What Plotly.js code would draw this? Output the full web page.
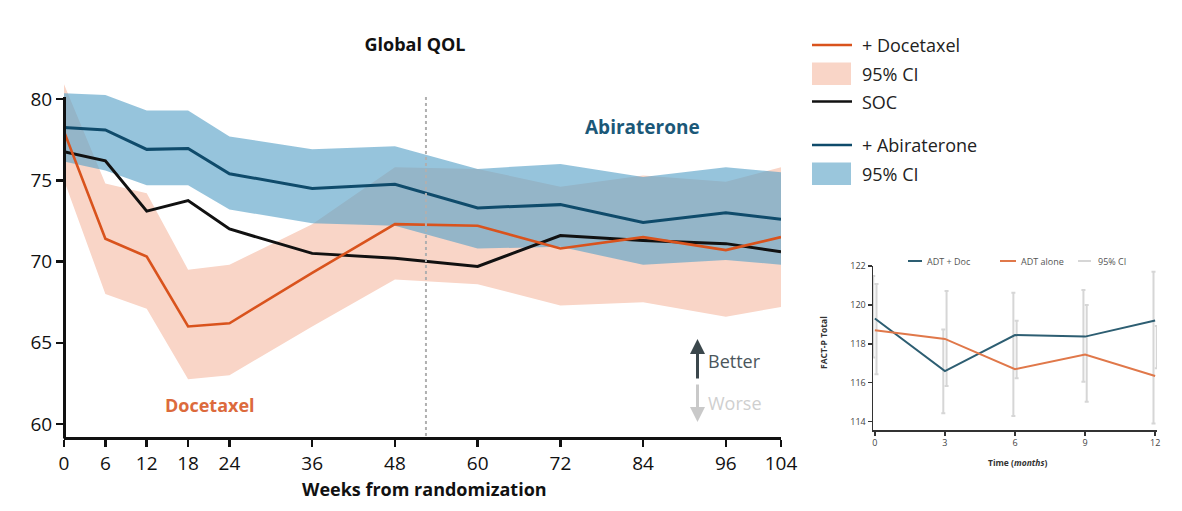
<!DOCTYPE html>
<html>
<head>
<meta charset="utf-8">
<script src="https://cdn.plot.ly/plotly-3.0.1.min.js"></script>
<style>html,body{margin:0;padding:0;background:#fff;}#chart{width:1182px;height:511px;}</style>
</head>
<body>
<div id="chart"></div>
<script>
// ---------- Main chart data (Global QOL) ----------
const weeks = [0, 6, 12, 18, 24, 36, 48, 60, 72, 84, 96, 104];
const weekTickLabels = ['0', '6', '12', '18', '24', '36', '48', '60', '72', '84', '96', '104'];
const docetaxel   = [78.0, 71.4, 70.3, 66.0, 66.2, 69.3, 72.3, 72.2, 70.8, 71.5, 70.7, 71.5];
const doceCiLow   = [75.0, 68.0, 67.1, 62.75, 63.0, 66.0, 68.9, 68.6, 67.3, 67.5, 66.6, 67.2];
const doceCiHigh  = [80.9, 74.8, 74.2, 69.5, 69.8, 72.3, 75.8, 75.7, 74.6, 75.3, 74.9, 75.8];
const soc         = [76.75, 76.2, 73.1, 73.75, 72.0, 70.5, 70.2, 69.7, 71.6, 71.3, 71.1, 70.6];
const abiraterone = [78.25, 78.1, 76.9, 76.95, 75.4, 74.5, 74.75, 73.3, 73.5, 72.4, 73.0, 72.6];
const abiCiLow    = [76.15, 75.6, 74.7, 74.7, 73.2, 72.35, 72.2, 70.8, 70.9, 69.8, 70.1, 69.8];
const abiCiHigh   = [80.35, 80.25, 79.3, 79.3, 77.7, 76.9, 77.1, 75.7, 76.0, 75.2, 75.8, 75.5];
const qolTicks    = [60, 65, 70, 75, 80];
const markerWeek  = 52.5;

// ---------- Inset chart data (FACT-P Total) ----------
const months      = [0, 3, 6, 9, 12];
const adtDoc      = [119.3, 116.6, 118.45, 118.37, 119.2];
const adtAlone    = [118.7, 118.25, 116.7, 117.45, 116.35];
const docCiLow    = [117.3, 114.43, 114.29, 116.05, 113.91];
const docCiHigh   = [121.49, 118.74, 120.63, 120.77, 121.71];
const aloneCiLow  = [116.43, 115.83, 116.23, 115.02, 116.74];
const aloneCiHigh = [121.07, 120.71, 119.19, 120.0, 118.92];
const factTicks   = [114, 116, 118, 120, 122];

// ---------- helpers ----------
const W = 1182, H = 511;
const px = x => x / W;
const py = y => 1 - y / H;
const FONT = 'Open Sans, sans-serif';

const C = {
  orange: '#d9531d', pink: '#f9d5c7', black: '#111111',
  blueLine: '#0f4b6b', blueBand: 'rgba(90,163,200,0.64)', blueLegend: '#9ac6dc',
  insetTeal: '#2d5e72', insetOrange: '#e0784a', ci: '#d6d6d6'
};

const traces = [
  {x: weeks, y: doceCiLow, mode: 'lines', line: {width: 0}, hoverinfo: 'skip', showlegend: false},
  {x: weeks, y: doceCiHigh, mode: 'lines', line: {width: 0}, fill: 'tonexty', fillcolor: C.pink, hoverinfo: 'skip', showlegend: false},
  {x: weeks, y: abiCiLow, mode: 'lines', line: {width: 0}, hoverinfo: 'skip', showlegend: false},
  {x: weeks, y: abiCiHigh, mode: 'lines', line: {width: 0}, fill: 'tonexty', fillcolor: C.blueBand, hoverinfo: 'skip', showlegend: false},
  {x: weeks, y: soc, mode: 'lines', name: 'SOC', line: {color: C.black, width: 3}, showlegend: false},
  {x: weeks, y: docetaxel, mode: 'lines', name: '+ Docetaxel', line: {color: C.orange, width: 2.6}, showlegend: false},
  {x: weeks, y: abiraterone, mode: 'lines', name: '+ Abiraterone', line: {color: C.blueLine, width: 3}, showlegend: false},
  // inset error bars
  {x: months.map(m => m - 0.07), y: docCiLow, xaxis: 'x2', yaxis: 'y2', mode: 'markers',
   marker: {size: 1, opacity: 0}, hoverinfo: 'skip', showlegend: false,
   error_y: {type: 'data', symmetric: false, array: docCiHigh.map((h, i) => h - docCiLow[i]), arrayminus: docCiLow.map(() => 0), color: C.ci, thickness: 2, width: 2}},
  {x: months.map(m => m + 0.07), y: aloneCiLow, xaxis: 'x2', yaxis: 'y2', mode: 'markers',
   marker: {size: 1, opacity: 0}, hoverinfo: 'skip', showlegend: false,
   error_y: {type: 'data', symmetric: false, array: aloneCiHigh.map((h, i) => h - aloneCiLow[i]), arrayminus: aloneCiLow.map(() => 0), color: C.ci, thickness: 2, width: 2}},
  {x: months, y: adtDoc, xaxis: 'x2', yaxis: 'y2', mode: 'lines', name: 'ADT + Doc', line: {color: C.insetTeal, width: 2}, showlegend: false},
  {x: months, y: adtAlone, xaxis: 'x2', yaxis: 'y2', mode: 'lines', name: 'ADT alone', line: {color: C.insetOrange, width: 2}, showlegend: false}
];

const shapes = [
  // main y-axis line
  {type: 'line', xref: 'paper', yref: 'paper', x0: px(64.5), x1: px(64.5), y0: py(438.5), y1: py(97), line: {color: C.black, width: 3}},
  // dotted marker line
  {type: 'line', xref: 'x', yref: 'paper', x0: markerWeek, x1: markerWeek, y0: py(436), y1: py(97), line: {color: '#b0b0b0', width: 2, dash: 'dot'}, layer: 'above'},
  // main legend swatches
  {type: 'line', xref: 'paper', yref: 'paper', x0: px(812), x1: px(852), y0: py(45), y1: py(45), line: {color: C.orange, width: 2.5}},
  {type: 'rect', xref: 'paper', yref: 'paper', x0: px(812), x1: px(851), y0: py(85), y1: py(62.5), fillcolor: C.pink, line: {width: 0}},
  {type: 'line', xref: 'paper', yref: 'paper', x0: px(812), x1: px(852), y0: py(101.5), y1: py(101.5), line: {color: C.black, width: 2.5}},
  {type: 'line', xref: 'paper', yref: 'paper', x0: px(812), x1: px(852), y0: py(145), y1: py(145), line: {color: C.blueLine, width: 2.5}},
  {type: 'rect', xref: 'paper', yref: 'paper', x0: px(812), x1: px(851), y0: py(185), y1: py(162.5), fillcolor: C.blueLegend, line: {width: 0}},
  // inset legend swatches
  {type: 'line', xref: 'paper', yref: 'paper', x0: px(908), x1: px(922), y0: py(261), y1: py(261), line: {color: C.insetTeal, width: 2}},
  {type: 'line', xref: 'paper', yref: 'paper', x0: px(1000), x1: px(1016), y0: py(261), y1: py(261), line: {color: C.insetOrange, width: 2}},
  {type: 'line', xref: 'paper', yref: 'paper', x0: px(1078), x1: px(1091), y0: py(261), y1: py(261), line: {color: C.ci, width: 2}}
];

const ann = (text, x, y, size, color, extra) => Object.assign({
  text: text, xref: 'paper', yref: 'paper', x: px(x), y: py(y), showarrow: false,
  xanchor: 'center', yanchor: 'middle', font: {family: FONT, size: size, color: color}
}, extra || {});

const annotations = [
  ann('<b>Weeks from randomization</b>', 424, 489, 18, '#111'),
  ann('<b>Abiraterone</b>', 642, 127, 19, '#1b5878'),
  ann('<b>Docetaxel</b>', 210, 405, 18, '#dc6a3c'),
  ann('Better', 706, 361, 18, '#4b565b', {xanchor: 'left'}),
  ann('Worse', 706, 403, 18, '#cfcfcf', {xanchor: 'left'}),
  {text: '', xref: 'paper', yref: 'paper', x: px(697.5), y: py(339), ax: 0, ay: 41, showarrow: true,
   arrowhead: 2, arrowsize: 1, arrowwidth: 3, arrowcolor: '#3b474c', standoff: 0, startstandoff: 0},
  {text: '', xref: 'paper', yref: 'paper', x: px(697.5), y: py(422), ax: 0, ay: -39, showarrow: true,
   arrowhead: 2, arrowsize: 1, arrowwidth: 3, arrowcolor: '#c9c9c9', standoff: 0, startstandoff: 0},
  // main legend labels
  ann('+ Docetaxel', 860, 45, 18, '#222', {xanchor: 'left'}),
  ann('95% CI', 860, 73.5, 18, '#222', {xanchor: 'left'}),
  ann('SOC', 860, 101.5, 18, '#222', {xanchor: 'left'}),
  ann('+ Abiraterone', 860, 145, 18, '#222', {xanchor: 'left'}),
  ann('95% CI', 860, 173.5, 18, '#222', {xanchor: 'left'}),
  // inset legend labels & titles
  ann('ADT + Doc', 925, 261, 9, '#555', {xanchor: 'left'}),
  ann('ADT alone', 1019, 261, 9, '#555', {xanchor: 'left'}),
  ann('95% CI', 1096, 261, 9, '#555', {xanchor: 'left'}),
  ann('<b>FACT-P Total</b>', 823, 343, 8.5, '#333', {textangle: -90}),
  ann('<b>Time (<i>months</i>)</b>', 1017, 462, 8.5, '#333')
];

const layout = {
  width: W, height: H,
  margin: {l: 0, r: 0, t: 0, b: 0},
  paper_bgcolor: '#ffffff', plot_bgcolor: 'rgba(0,0,0,0)',
  showlegend: false,
  font: {family: FONT, color: '#1a1a1a'},
  title: {text: '<b>Global QOL</b>', x: px(415), xanchor: 'center', y: py(45), yanchor: 'middle',
          font: {family: FONT, size: 18, color: '#111'}},
  xaxis: {
    domain: [px(64), px(781)], range: [0, 104],
    tickmode: 'array', tickvals: weeks, ticktext: weekTickLabels,
    showline: true, linecolor: C.black, linewidth: 3,
    ticks: 'outside', ticklen: 7, tickwidth: 2.5, tickcolor: C.black,
    tickfont: {family: FONT, size: 19, color: '#111'},
    showgrid: false, zeroline: false, fixedrange: true
  },
  yaxis: {
    domain: [py(437), py(82.75)], range: [59.2, 81],
    tickmode: 'array', tickvals: qolTicks,
    showline: false,
    ticks: 'outside', ticklen: 7, tickwidth: 2.5, tickcolor: C.black,
    tickfont: {family: FONT, size: 19, color: '#111'},
    showgrid: false, zeroline: false, fixedrange: true
  },
  xaxis2: {
    domain: [px(873), px(1157)], range: [-0.08, 12.08], anchor: 'y2',
    tickmode: 'array', tickvals: months,
    showline: true, linecolor: '#333', linewidth: 1.5,
    ticks: 'outside', ticklen: 4, tickwidth: 1.5, tickcolor: '#333',
    tickfont: {family: FONT, size: 9, color: '#444'},
    showgrid: false, zeroline: false, fixedrange: true
  },
  yaxis2: {
    domain: [py(430), py(266)], range: [113.57, 122], anchor: 'x2',
    tickmode: 'array', tickvals: factTicks,
    showline: true, linecolor: '#333', linewidth: 1.5,
    ticks: 'outside', ticklen: 4, tickwidth: 1.5, tickcolor: '#333',
    tickfont: {family: FONT, size: 9, color: '#444'},
    showgrid: false, zeroline: false, fixedrange: true
  },
  shapes: shapes,
  annotations: annotations
};

Plotly.newPlot('chart', traces, layout, {displayModeBar: false, staticPlot: true});
</script>
</body>
</html>
